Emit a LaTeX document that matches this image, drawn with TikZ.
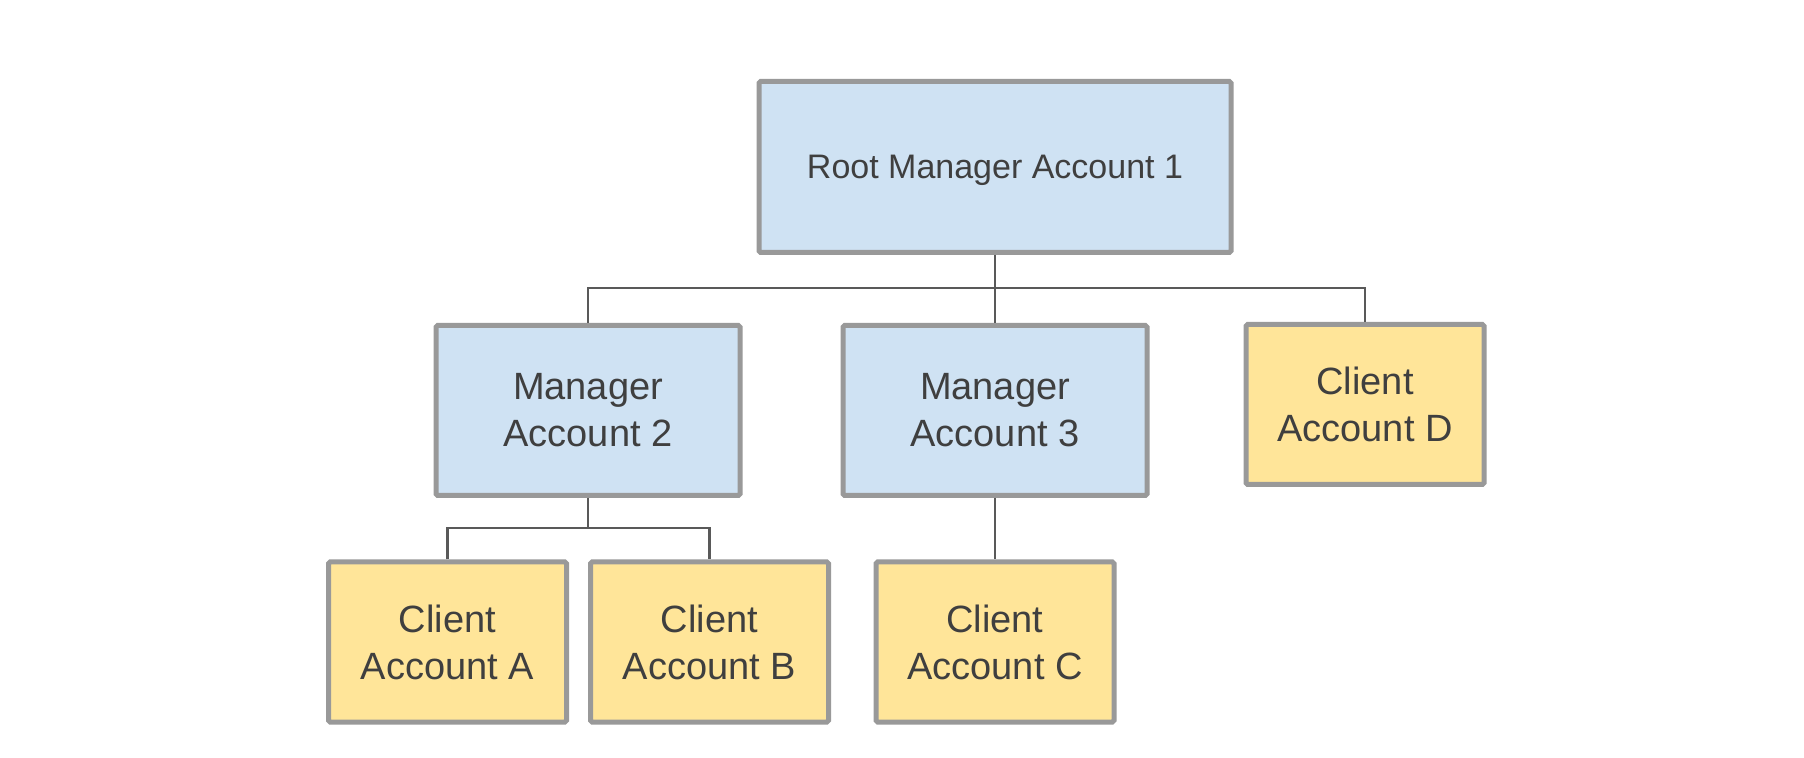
\documentclass[tikz,border=0pt]{standalone}
\usepackage{fontspec}
\setmainfont{Liberation Sans}
\usepackage{xcolor}
\usetikzlibrary{positioning}

\definecolor{mgrblue}{HTML}{CFE2F3}
\definecolor{clientyellow}{HTML}{FFE599}
\definecolor{boxgray}{HTML}{999999}
\definecolor{linkgray}{HTML}{595959}
\definecolor{textgray}{HTML}{3F3F3F}

\tikzset{
  acct/.style={draw=boxgray, line width=2.5pt, text=textgray, align=center,
    inner sep=0pt, rounded corners=0.8pt, font=\fontsize{19}{23.5}\selectfont},
  manager/.style={acct, fill=mgrblue, minimum width=152pt, minimum height=85pt},
  client/.style={acct, fill=clientyellow, minimum width=119pt, minimum height=80pt},
  link/.style={draw=linkgray, line width=1.2pt},
}

\begin{document}
\begin{tikzpicture}[x=0.5pt, y=-0.5pt]
\useasboundingbox[fill=white] (0,0) rectangle (1804,758);

% accounts
\node[manager, minimum width=236pt, minimum height=85.5pt, text height=12pt,
  text depth=0pt, font=\fontsize{17}{20}\selectfont] (root) at (995,167)
  {Root Manager Account 1};
\node[manager] (mgrtwo) at (588,410.5) {Manager\\Account 2};
\node[manager] (mgrthree) at (995,410.5) {Manager\\Account 3};
\node[client] (clientd) at (1365,404.5) {Client\\Account D};
\node[client] (clienta) at (447.5,642) {Client\\Account A};
\node[client] (clientb) at (709.5,642) {Client\\Account B};
\node[client] (clientc) at (995,642) {Client\\Account C};

% links
\coordinate (busone) at (995,288);
\coordinate (bustwo) at (588,528);
\draw[link] (root.south) -- (busone) -| (mgrtwo.north);
\draw[link] (busone) -| (clientd.north);
\draw[link] (busone) -- (mgrthree.north);
\draw[link] (mgrtwo.south) -- (bustwo);
\draw[link] (clienta.north) |- (bustwo) -| (clientb.north);
\draw[link] (mgrthree.south) -- (clientc.north);
\end{tikzpicture}
\end{document}
